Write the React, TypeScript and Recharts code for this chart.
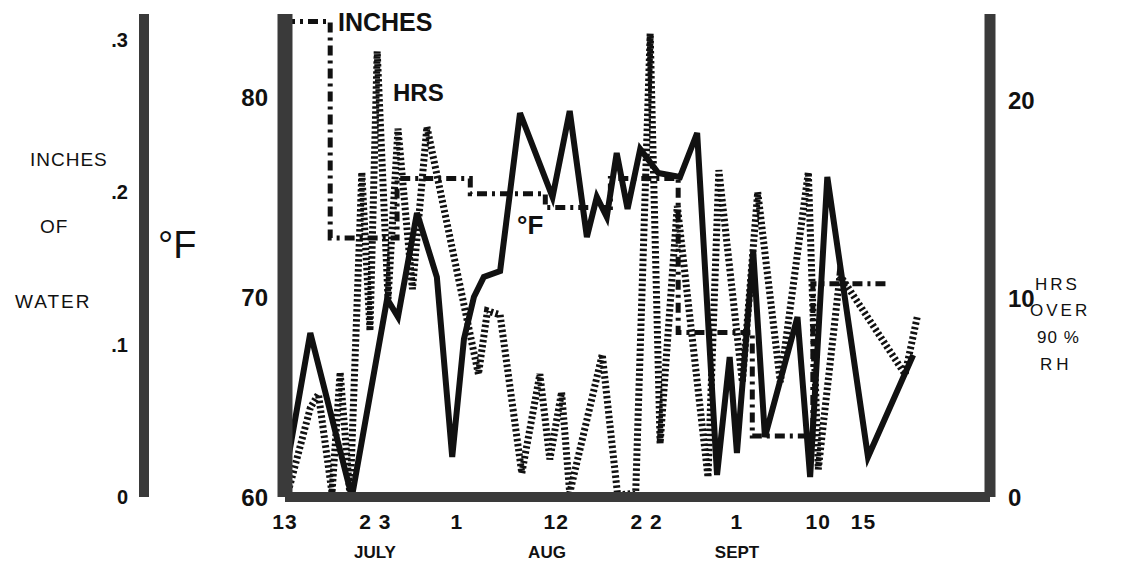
import { LineChart, Line, XAxis, YAxis } from 'recharts';

// days counted from July 13
const tempDay = [0, 2.8, 7.4, 11.3, 12.5, 14.6, 16.8, 18.5, 19.8, 20.9, 22.0, 23.8, 26.0, 29.6, 31.5, 33.4, 34.5, 35.6, 36.7, 37.9, 39.3, 41.3, 43.7, 45.6, 47.8, 49.2, 50.0, 51.8, 53.1, 56.7, 58.1, 60.0, 64.5, 69.5];
const tempF = [61, 68.2, 60, 69.9, 69, 74.2, 71, 62, 67.9, 70, 71, 71.3, 79.2, 75, 79.3, 73, 75, 74, 77.2, 74.4, 77.4, 76.2, 76, 78.2, 61.1, 67, 62.2, 72.3, 63, 69, 61, 76, 62, 67.1];

const hrsDay = [0.2, 2.8, 3.7, 5.2, 6.1, 7.2, 8.5, 9.4, 10.2, 11.4, 12.5, 14.1, 15.7, 21.4, 22.4, 23.8, 26.2, 28.2, 29.3, 30.6, 31.5, 35.1, 36.8, 38.8, 40.4, 41.5, 43.4, 46.8, 48.0, 50.6, 52.3, 54.8, 57.9, 59.0, 61.4, 68.6, 70.0];
const hrs = [0, 4.5, 5.2, 0.2, 6.3, 0, 16.4, 8.4, 22.5, 10, 18.6, 10.5, 18.7, 6.2, 9.4, 9.2, 1.2, 6.2, 1.9, 5.3, 0.2, 7.2, 0.1, 0.2, 23.4, 2.7, 14.7, 1, 16.5, 5.8, 15.4, 5.8, 16.4, 1.4, 11.2, 6.2, 9.2];

const inchDay = [0, 5.0, 12.4, 20.5, 28.8, 36.0, 43.5, 51.7, 58.4, 66.9];
const inches = [0.312, 0.17, 0.209, 0.199, 0.19, 0.209, 0.108, 0.04, 0.14, 0.14];

const dayTicks = [0, 10, 19, 30, 40, 50, 59, 64];
const dayLabels = ['13', '2 3', '1', '12', '2 2', '1', '10', '15'];
const months = [
  { label: 'JULY', x: 375 },
  { label: 'AUG', x: 547 },
  { label: 'SEPT', x: 737 },
];

const tempData = tempDay.map((day, i) => ({ day, value: tempF[i] }));
const hrsData = hrsDay.map((day, i) => ({ day, value: hrs[i] }));
const inchData = inchDay.map((day, i) => ({ day, value: inches[i] }));

const ink = '#111';
const bar = '#3a3a3a';
const font = '"Liberation Sans", Arial, sans-serif';

const Txt = ({ x, y, size, weight = 'normal', spacing = 0, children }: any) => (
  <div
    style={{
      position: 'absolute',
      left: x,
      top: y,
      fontSize: size,
      fontWeight: weight,
      letterSpacing: spacing,
      color: ink,
      lineHeight: 1,
      whiteSpace: 'nowrap',
    }}
  >
    {children}
  </div>
);

const App = () => {
  return (
    <div style={{ position: 'absolute', left: 0, top: 0, width: 1124, height: 568, background: '#fff', fontFamily: font }}>
      <LineChart width={1124} height={568} data={tempData} margin={{ top: 14, right: 0, bottom: 41, left: 0 }}>
        <XAxis
          dataKey='day'
          type='number'
          domain={[0, 78]}
          ticks={dayTicks}
          tickFormatter={(v: number) => dayLabels[dayTicks.indexOf(v)]}
          allowDataOverflow
          height={30}
          tickLine={false}
          tickSize={0}
          tickMargin={17}
          axisLine={{ stroke: bar, strokeWidth: 10 }}
          tick={{ fill: ink, fontSize: 21, fontWeight: 'bold', letterSpacing: 1 }}
        />
        <YAxis
          yAxisId='f'
          orientation='left'
          domain={[60, 84.15]}
          ticks={[60, 70, 80]}
          width={141}
          allowDataOverflow
          tickLine={false}
          tickSize={0}
          tickMargin={17}
          axisLine={{ stroke: bar, strokeWidth: 15 }}
          tick={{ fill: ink, fontSize: 24, fontWeight: 'bold' }}
        />
        <YAxis
          yAxisId='in'
          orientation='left'
          domain={[0, 0.317]}
          ticks={[0, 0.1, 0.2, 0.3]}
          tickFormatter={(v: number) => (v === 0 ? '0' : '.' + Math.round(v * 10))}
          width={144}
          allowDataOverflow
          tickLine={false}
          tickSize={0}
          tickMargin={16}
          axisLine={{ stroke: bar, strokeWidth: 10 }}
          tick={{ fill: ink, fontSize: 20, fontWeight: 'bold' }}
        />
        <YAxis
          yAxisId='h'
          orientation='right'
          domain={[0, 24.39]}
          ticks={[0, 10, 20]}
          width={134}
          allowDataOverflow
          tickLine={false}
          tickSize={0}
          tickMargin={18}
          axisLine={{ stroke: bar, strokeWidth: 11 }}
          tick={{ fill: ink, fontSize: 24, fontWeight: 'bold' }}
        />

        {/* hours over 90% RH */}
        <Line
          yAxisId='h'
          data={hrsData}
          dataKey='value'
          type='linear'
          stroke={ink}
          strokeWidth={7}
          strokeDasharray='2.5 2.5'
          dot={false}
          isAnimationActive={false}
        />
        {/* inches of water */}
        <Line
          yAxisId='in'
          data={inchData}
          dataKey='value'
          type='stepAfter'
          stroke={ink}
          strokeWidth={5}
          strokeDasharray='10 5 3 5'
          dot={false}
          isAnimationActive={false}
        />
        {/* temperature */}
        <Line
          yAxisId='f'
          data={tempData}
          dataKey='value'
          type='linear'
          stroke={ink}
          strokeWidth={6}
          dot={false}
          isAnimationActive={false}
        />
      </LineChart>

      {/* left titles */}
      <Txt x={30} y={150} size={19} spacing={1}>INCHES</Txt>
      <Txt x={40} y={217} size={19} spacing={1}>OF</Txt>
      <Txt x={15} y={292} size={19} spacing={2}>WATER</Txt>
      <Txt x={158} y={226} size={38}>°F</Txt>

      {/* in-plot labels */}
      <Txt x={338} y={10} size={25} weight='bold'>INCHES</Txt>
      <Txt x={393} y={81} size={24} weight='bold'>HRS</Txt>
      <Txt x={517} y={212} size={26} weight='bold'>°F</Txt>

      {/* right title */}
      <Txt x={1035} y={276} size={17} spacing={3}>HRS</Txt>
      <Txt x={1030} y={302} size={17} spacing={3}>OVER</Txt>
      <Txt x={1037} y={329} size={17} spacing={1}>90 %</Txt>
      <Txt x={1040} y={356} size={17} spacing={4}>RH</Txt>

      {/* months */}
      {months.map((m) => (
        <div
          key={m.label}
          style={{
            position: 'absolute',
            left: m.x,
            top: 544,
            transform: 'translateX(-50%)',
            fontSize: 17,
            fontWeight: 'bold',
            color: ink,
            lineHeight: 1,
          }}
        >
          {m.label}
        </div>
      ))}
    </div>
  );
};

export default App;
